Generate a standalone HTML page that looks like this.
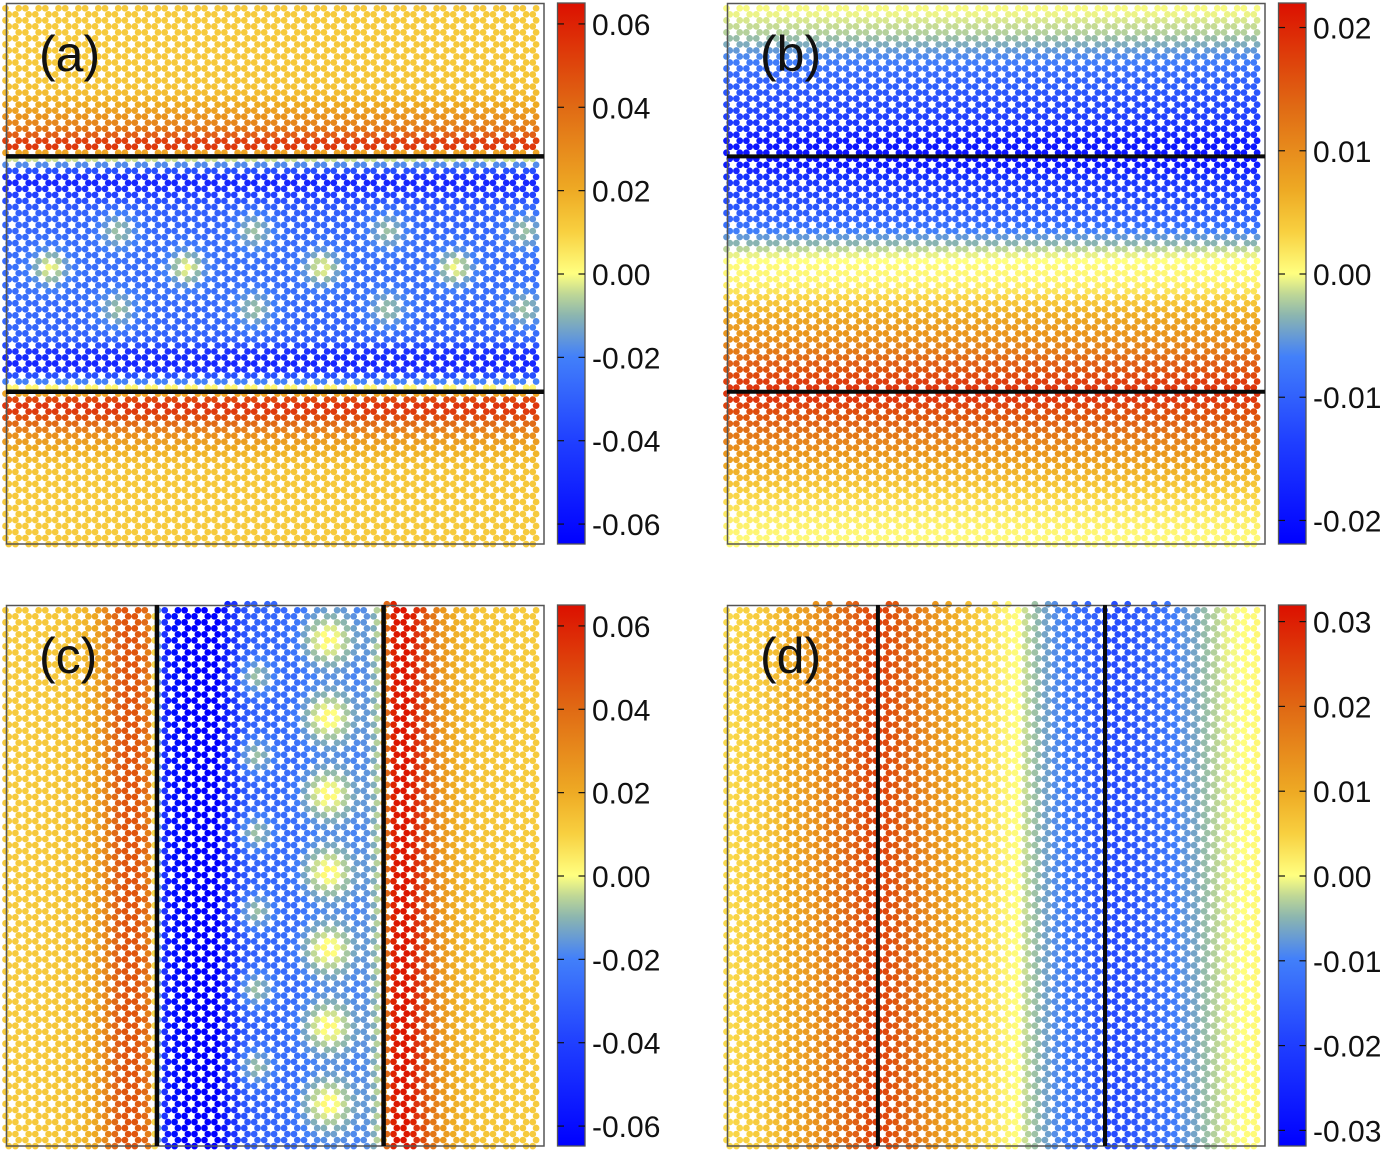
<!DOCTYPE html>
<html>
<head>
<meta charset="utf-8">
<title>Lattice charge maps</title>
<style>
html,body{margin:0;padding:0;background:#fff;}
#chart{display:block;width:1385px;height:1152px;}
text{font-family:"Liberation Sans",sans-serif;fill:#111;}
</style>
</head>
<body>
<svg id="chart" xmlns="http://www.w3.org/2000/svg" width="1385" height="1152" viewBox="0 0 1385 1152">
  <defs>
    <filter id="soft" x="-2%" y="-2%" width="104%" height="104%"><feGaussianBlur stdDeviation="0.35"/></filter>
    <linearGradient id="cbGrad" x1="0" y1="1" x2="0" y2="0"></linearGradient>
  </defs>
</svg>
<script>
// ---- colour scale, normalised value -> rgb
var colorPos = [-1, -0.6154, -0.3077, -0.1538, -0.0769, 0, 0.1538, 0.3077, 0.6154, 1];
var colorR = [0, 32, 66, 140, 190, 255, 248, 238, 224, 220];
var colorG = [0, 64, 128, 182, 215, 255, 208, 170, 106, 16];
var colorB = [255, 255, 250, 175, 150, 128, 64, 36, 20, 0];

// ---- panel (a): value per lattice row
var rowsA = [.0115,.0115,.0115,.0115,.0115,.0118,.012,.012,.012,.012,.0125,.0125,
 .013,.0135,.015,.017,.02,.023,.027,.031,.036,.043,.052,.054,.022,-.004,
 -.018,-.035,-.045,-.05,-.045,-.04,-.035,-.032,-.03,-.029,-.028,-.028,-.027,-.027,-.026,-.026,-.026,-.026,-.026,
 -.026,-.026,-.026,-.026,-.027,-.027,-.027,-.028,-.028,-.029,-.03,-.035,-.045,-.048,-.05,-.045,-.035,-.02,.002,
 .022,.05,.055,.053,.048,.04,.033,.028,.024,.02,.017,.015,.0135,.013,.0125,.012,.012,.012,.0118,.0115,.0115,.0115,.0115,.0115,.0115,.0115];

// ---- panel (b): value per lattice row
var rowsB = [-.0002,-.0005,-.001,-.0015,-.002,-.003,-.004,-.0052,-.0062,-.0072,-.0082,-.009,-.0098,-.0105,-.0112,-.0118,-.0122,-.0128,-.0135,-.0145,
 -.0155,-.0168,-.018,-.0188,-.019,-.019,-.018,-.0168,-.0155,-.0145,-.0136,-.0128,-.012,-.0113,-.0105,-.0095,-.0085,-.007,-.0052,-.0035,
 -.0018,-.0006,.0001,.0004,.0006,.0008,.0012,.002,.003,.0044,.0055,.0065,.0075,.0082,.0088,.0096,.0105,.0118,.0132,.0145,
 .0155,.0165,.0178,.0186,.0188,.0182,.0172,.0162,.0152,.0142,.013,.012,.0108,.0098,.0088,.0078,.007,.006,.0052,.0044,
 .0036,.003,.0026,.0021,.0016,.0012,.001,.0007,.0005,.0003];

// ---- panel (c): value per lattice column
var colsC = [.0115,.0115,.0115,.0115, .0115,.0115,.012,.012, .012,.012,.0125,.0125, .013,.014,.014,.015,
 .017,.018,.021,.024, .03,.034,.04,.043, .046,.046,.046,.044, .04,.034,.008,-.015,
 -.045,-.055,-.06,-.062, -.064,-.064,-.064,-.064, -.064,-.064,-.064,-.064, -.055,-.052,-.045,-.042,
 -.034,-.032,-.03,-.029, -.028,-.028,-.028,-.028, -.027,-.027,-.027,-.027, -.024,-.023,-.022,-.021,
 -.02,-.02,-.019,-.019, -.019,-.019,-.02,-.02, -.018,-.017,-.012,-.006, .02,.04,.06,.063,
 .063,.063,.06,.056, .048,.044,.036,.032, .026,.024,.02,.018, .016,.015,.014,.014,
 .013,.013,.0125,.0125, .012,.012,.0115,.0115, .0115,.0115,.0115,.0115];

// ---- panel (d): value per lattice column
var colsD = [.004,.004,.0045,.0045, .005,.005,.0055,.0055, .0065,.007,.0075,.008, .0095,.01,.0105,.011,
 .012,.0125,.0135,.014, .016,.0165,.0175,.018, .0195,.02,.021,.022, .023,.024,.025,.025,
 .024,.0235,.022,.0215, .02,.0195,.018,.017, .015,.0145,.013,.0125, .011,.0105,.0095,.009,
 .0075,.007,.006,.0055, .0045,.004,.003,.0025, .0015,.001,.0005,.0002, -.002,-.003,-.004,-.005,
 -.0065,-.007,-.0085,-.009, -.0105,-.011,-.012,-.0125, -.0135,-.014,-.015,-.016, -.017,-.018,-.018,-.0175,
 -.017,-.0165,-.016,-.0155, -.0145,-.014,-.013,-.0125, -.012,-.0115,-.0105,-.0095, -.008,-.0075,-.0065,-.006,
 -.0045,-.004,-.003,-.0025, -.0012,-.0008,-.0004,-.0002, .0002,.0003,.0005,.0008];

// ---- local puddles: cell coordinate, row coordinate, value at centre
var blobCellA = [2.24,9.1,15.9,22.6, 5.65,12.5,19.2,26.1, 5.65,12.5,19.2,26.1];
var blobRowA = [43.1,43.1,43.1,43.1, 37,37,37,37, 50,50,50,50];
var blobPeakA = [-.0005,-.0005,-.0005,-.0005, -.008,-.008,-.008,-.008, -.008,-.008,-.008,-.008];
var blobCellC = [16.2,16.2,16.2,16.2,16.2,16.2,16.2, 12.6,12.6,12.6,12.6,12.6,12.6];
var blobRowC = [4.9,17.8,30.6,43.5,56.3,69.2,82, 11,24.2,37,50,63,75.8];
var blobPeakC = [.002,.002,.002,.002,.002,.002,.002, -.008,-.008,-.008,-.008,-.008,-.008];

// ---- partial row above the frame (column indices)
var topColsC = [45,46,49,50,53,54,77,78];
var topColsD = [18,21,25,26,33,34,42,45,49,54,57,62,65,66,70,73,78,81,86,89];

// ---- tick labels
var ticksA = [0.06,0.04,0.02,0,-0.02,-0.04,-0.06];
var ticksB = [0.02,0.01,0,-0.01,-0.02];
var ticksC = [0.06,0.04,0.02,0,-0.02,-0.04,-0.06];
var ticksD = [0.03,0.02,0.01,0,-0.01,-0.02,-0.03];
var panelLabels = ["(a)","(b)","(c)","(d)"];

var NS = "http://www.w3.org/2000/svg";
var svg = document.getElementById("chart");

function mk(tag, attrs, parent) {
  var el = document.createElementNS(NS, tag);
  for (var k in attrs) el.setAttribute(k, attrs[k]);
  (parent || svg).appendChild(el);
  return el;
}
function colorOf(t) {
  if (t < -1) t = -1;
  if (t > 1) t = 1;
  var i = 0;
  while (i < colorPos.length - 2 && t > colorPos[i + 1]) i++;
  var f = (t - colorPos[i]) / (colorPos[i + 1] - colorPos[i]);
  var r = colorR[i] + (colorR[i + 1] - colorR[i]) * f;
  var g = colorG[i] + (colorG[i + 1] - colorG[i]) * f;
  var b = colorB[i] + (colorB[i + 1] - colorB[i]) * f;
  return "rgb(" + Math.round(r) + "," + Math.round(g) + "," + Math.round(b) + ")";
}

// axis functions
var CELL = 19.9, ROW = 6.02;
var SUB = [0, 3.25, 9.9, 13.2];
function cellX(p, u) { return p.ox + 5.5 + CELL * u; }
function colX(p, c) { return cellX(p, Math.floor(c / 4)) + SUB[c % 4]; }
function rowY(p, r) { return p.oy + 8.3 + ROW * r; }
function barY(p, v) { return p.oy + 274 - v / p.range * 270.5; }
function isOddCol(c) { return c % 4 === 1 || c % 4 === 2; }

// gradient of colour bars
var grad = document.getElementById("cbGrad");
for (var gi = 0; gi < colorPos.length; gi++) {
  var st = document.createElementNS(NS, "stop");
  st.setAttribute("offset", (colorPos[gi] + 1) / 2);
  st.setAttribute("stop-color", colorOf(colorPos[gi]));
  grad.appendChild(st);
}

var panels = [
  {id:"a", ox:0, oy:0, range:.0649, rows:rowsA, cols:null, bc:blobCellA, br:blobRowA, bp:blobPeakA, strong:4, sA:13, sB:14, walls:[24.6,63.7], ticks:ticksA, lab:0},
  {id:"b", ox:721, oy:0, range:.02195, rows:rowsB, cols:null, bc:[], br:[], bp:[], strong:0, sA:0, sB:0, walls:[24.6,63.7], ticks:ticksB, lab:1},
  {id:"c", ox:0, oy:602, range:.0649, rows:null, cols:colsC, bc:blobCellC, br:blobRowC, bp:blobPeakC, strong:7, sA:18, sB:13, walls:[7.61,19.0], ticks:ticksC, lab:2, top:topColsC},
  {id:"d", ox:721, oy:602, range:.0319, rows:null, cols:colsD, bc:[], br:[], bp:[], strong:0, sA:0, sB:0, walls:[7.61,19.02], ticks:ticksD, lab:3, top:topColsD}
];

function valueAt(p, r, c) {
  var base = p.rows ? p.rows[r] : p.cols[c];
  var v = base;
  var x = colX(p, c), y = rowY(p, r);
  for (var i = 0; i < p.bc.length; i++) {
    var dx = x - cellX(p, p.bc[i]), dy = y - rowY(p, p.br[i]);
    var s = i < p.strong ? p.sA : p.sB;
    var w = Math.exp(-(dx * dx + dy * dy) / (2 * s * s));
    if (w > 0.01) {
      var cand = base + (p.bp[i] - base) * w;
      if (cand > v) v = cand;
    }
  }
  return v;
}

panels.forEach(function (p) {
  var g = mk("g", {});
  
  

  var dots = mk("g", {filter:"url(#soft)"}, g);
  
  

  for (var r = 0; r < 90; r++) {
    var odd = r % 2 === 1;
    for (var c = 0; c < 108; c++) {
      if (isOddCol(c) !== odd) continue;
      var dot = mk("circle", {cx:colX(p, c).toFixed(2), cy:rowY(p, r).toFixed(2), r:3.35, fill:colorOf(valueAt(p, r, c) / p.range)}, dots);
      
      
    }
  }
  if (p.top) {
    p.top.forEach(function (c) {
      var v = p.cols[c];
      var dot = mk("circle", {cx:colX(p, c).toFixed(2), cy:rowY(p, -1).toFixed(2), r:3.35, fill:colorOf(v / p.range)}, dots);
      
      
    });
  }

  var frame = mk("rect", {x:p.ox + 6.5, y:p.oy + 3.5, width:537.5, height:540.5, fill:"none", stroke:"#555", "stroke-width":1.5}, g);
  
  

  p.walls.forEach(function (w, i) {
    var line;
    if (p.rows) {
      line = mk("line", {x1:p.ox + 6, x2:p.ox + 544, y1:rowY(p, w), y2:rowY(p, w), stroke:"#0a0a0a", "stroke-width":p.id === "a" ? 4.5 : 4}, g);
    } else {
      line = mk("line", {x1:cellX(p, w), x2:cellX(p, w), y1:p.oy + 3, y2:p.oy + 544, stroke:"#0a0a0a", "stroke-width":p.id === "c" ? 4.5 : 4}, g);
    }
    
    
  });

  var label = mk("text", {x:p.ox + 39, y:p.oy + 71, "font-size":50}, g);
  label.textContent = panelLabels[p.lab];
  
  

  var bar = mk("g", {}, g);
  
  
  var body = mk("rect", {x:p.ox + 557.5, y:p.oy + 3, width:27.5, height:541, fill:"url(#cbGrad)", stroke:"#555", "stroke-width":1.3}, bar);
  
  

  p.ticks.forEach(function (t) {
    var y = barY(p, t);
    var t1 = mk("line", {x1:p.ox + 557.5, x2:p.ox + 564, y1:y, y2:y, stroke:"#111", "stroke-width":1.2}, bar);
    
    
    var t2 = mk("line", {x1:p.ox + 578.5, x2:p.ox + 585, y1:y, y2:y, stroke:"#111", "stroke-width":1.2}, bar);
    
    
    var tx = mk("text", {x:p.ox + 592, y:y + 11, "font-size":30}, bar);
    tx.textContent = t.toFixed(2);
    
    
  });
});
</script>
</body>
</html>
